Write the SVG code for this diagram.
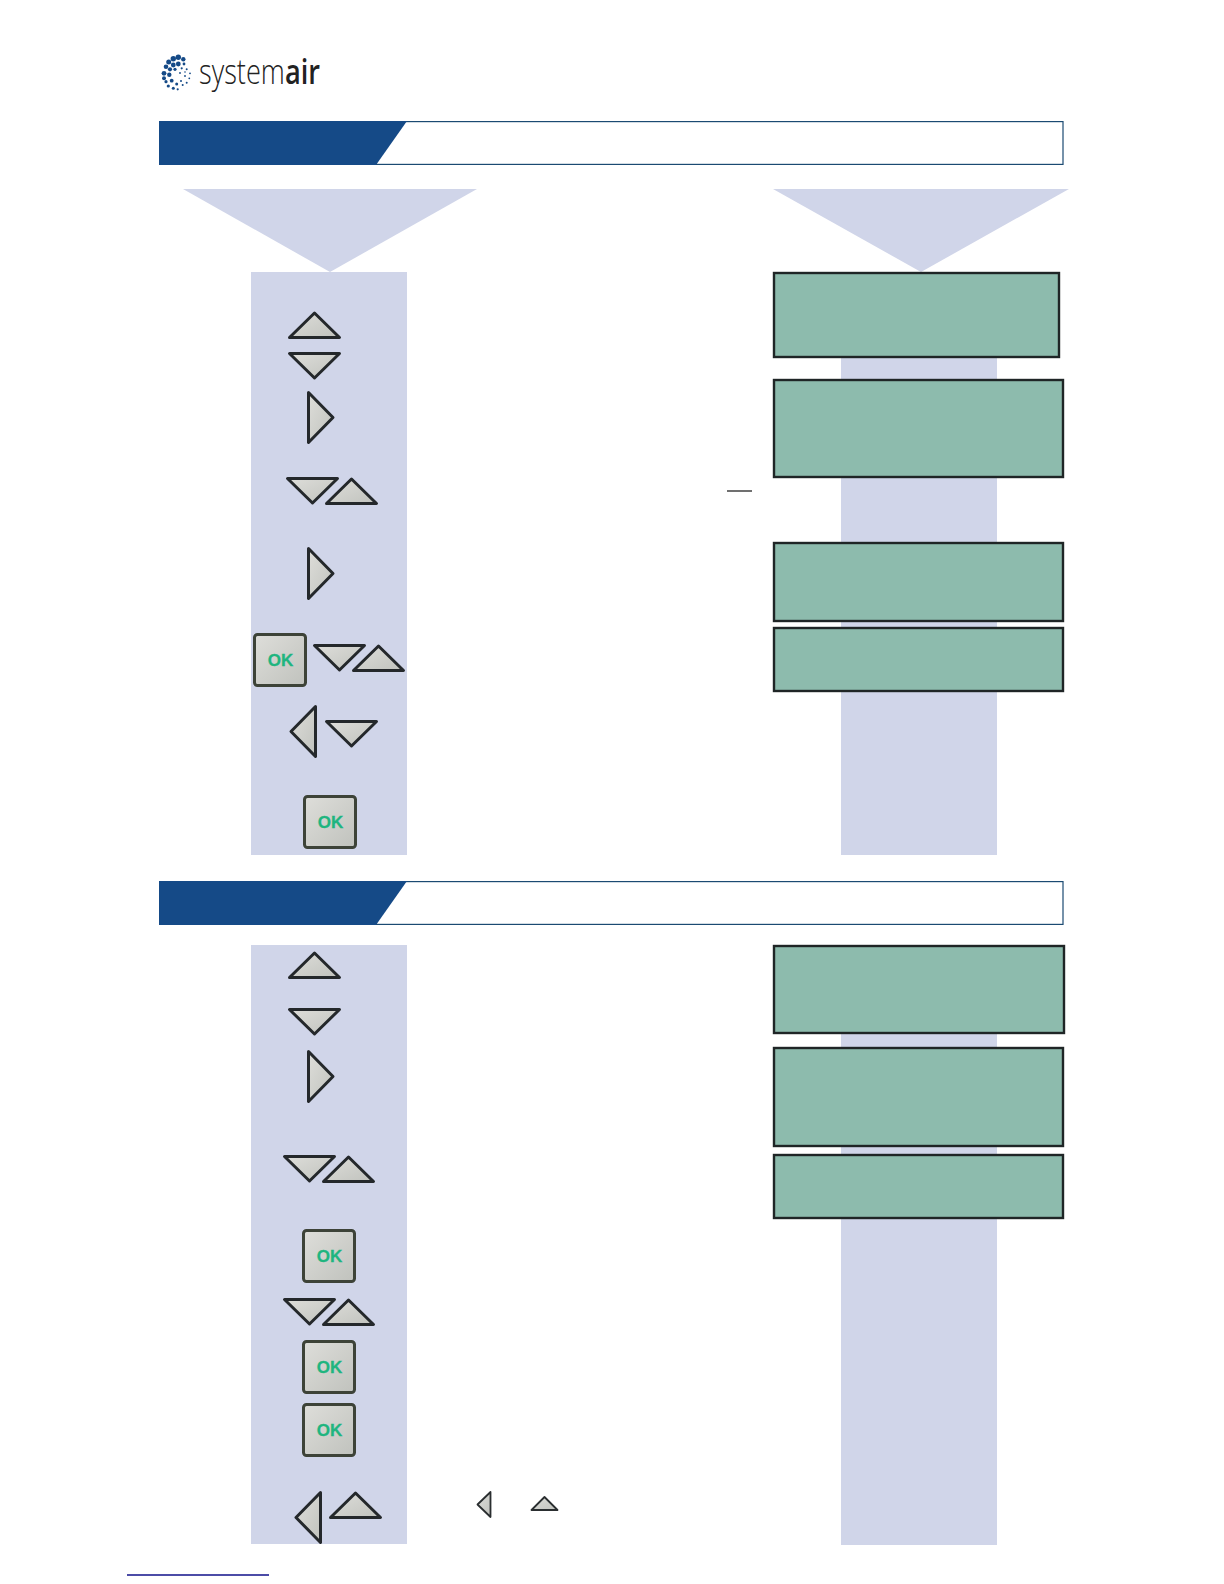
<svg xmlns="http://www.w3.org/2000/svg" width="1224" height="1584" viewBox="0 0 1224 1584">
<style>
.band{fill:#d0d5e9}
.bar{fill:#154a87}
.frame{fill:#fff;stroke:#1b4a72;stroke-width:1.2}
.lcd{fill:#8dbbad;stroke:#1f2526;stroke-width:2.4}
.key{fill:url(#metal);stroke:#24282b;stroke-width:3;stroke-linejoin:round}
.small{fill:url(#metal);stroke:#2a2e30;stroke-width:1.8;stroke-linejoin:round}
.okbox{fill:url(#metal);stroke:#3d4338;stroke-width:3}
.oktext{font-family:"Liberation Sans",Arial,sans-serif;font-weight:700;font-size:17px;fill:#1fb57f;stroke:#1fb57f;stroke-width:.3;text-anchor:middle}
.d{fill:#154a87}
</style>
<defs>
<linearGradient id="metal" x1="0" y1="0" x2="1" y2="1"><stop offset="0" stop-color="#dededa"/><stop offset="1" stop-color="#c0c2bd"/></linearGradient>
<polygon id="up" class="key" points="1.5,25.5 26.5,1 51.5,25.5"/>
<polygon id="down" class="key" points="1.5,.5 51.5,.5 26.5,25"/>
<polygon id="right" class="key" points=".5,1.5 25,26.5 .5,51.5"/>
<polygon id="left" class="key" points="25.5,1.5 1,26.5 25.5,51.5"/>
<g id="ok"><rect class="okbox" x="1.5" y="1.5" width="51" height="51" rx="3"/><text class="oktext" x="27.5" y="33">OK</text></g>
</defs>
<rect width="1224" height="1584" fill="#fff"/>

<g id="logo">
<g>
<circle class="d" cx="178.3" cy="57.3" r="2.7"/><circle class="d" cx="173.3" cy="58.7" r="2.7"/><circle class="d" cx="183.3" cy="59.3" r="2.2"/><circle class="d" cx="168.7" cy="62" r="2.5"/><circle class="d" cx="178.3" cy="64" r="2.4"/><circle class="d" cx="173.3" cy="65" r="2.4"/><circle class="d" cx="184" cy="64" r="1.4"/><circle class="d" cx="166" cy="66.7" r="2.3"/><circle class="d" cx="170" cy="69.3" r="2.1"/><circle class="d" cx="164" cy="73.3" r="2.4"/><circle class="d" cx="169.3" cy="74.7" r="2.2"/><circle class="d" cx="164" cy="78.3" r="2"/><circle class="d" cx="175" cy="69.3" r="1.6"/><circle class="d" cx="181.7" cy="68.3" r="1.1"/><circle class="d" cx="186.7" cy="69.3" r="1"/><circle class="d" cx="190" cy="73.3" r=".9"/><circle class="d" cx="189.3" cy="78.3" r=".9"/><circle class="d" cx="186.7" cy="82.7" r="1"/><circle class="d" cx="182.7" cy="85" r="1"/><circle class="d" cx="177.7" cy="89.3" r="1.1"/><circle class="d" cx="173.3" cy="88.3" r="1.5"/><circle class="d" cx="168.3" cy="86" r="1.6"/><circle class="d" cx="166" cy="81.7" r="1.6"/><circle class="d" cx="171.7" cy="80.7" r="1.9"/><circle class="d" cx="176.7" cy="84" r="1.5"/><circle class="d" cx="181" cy="81" r="1"/><circle class="d" cx="185" cy="76" r=".9"/><circle class="d" cx="185" cy="72" r=".8"/><circle class="d" cx="180" cy="73" r=".9"/>
</g>
<text x="199" y="84" font-family="'Open Sans',sans-serif" font-size="35" font-weight="300" fill="#222" textLength="121" lengthAdjust="spacingAndGlyphs">system<tspan font-weight="600">air</tspan></text>
</g>

<g id="section-1">
<rect class="frame" x="376" y="121.6" width="687" height="42.8"/>
<polygon class="bar" points="159,121 407,121 376,165 159,165"/>
<polygon class="band" points="183,189 477,189 330,272"/>
<polygon class="band" points="773,189 1069,189 921,272"/>
<rect class="band" x="251" y="272" width="156" height="583"/>
<rect class="band" x="841" y="350" width="156" height="505"/>
<rect class="lcd" x="774" y="273" width="285" height="84"/>
<rect class="lcd" x="774" y="380" width="289" height="97"/>
<rect class="lcd" x="774" y="543" width="289" height="78"/>
<rect class="lcd" x="774" y="628" width="289" height="63"/>
<line x1="727" y1="491" x2="752" y2="491" stroke="#111" stroke-width="1.2"/>
<g id="k1"><use href="#up" x="288" y="312"/></g>
<g id="k2"><use href="#down" x="288" y="353"/></g>
<g id="k3"><use href="#right" x="308" y="391"/></g>
<g id="k4"><use href="#down" x="286" y="478"/><use href="#up" x="325" y="478"/></g>
<g id="k5"><use href="#right" x="308" y="547"/></g>
<g id="k6"><use href="#ok" x="253" y="633"/><use href="#down" x="313" y="645"/><use href="#up" x="352" y="645"/></g>
<g id="k7"><use href="#left" x="290" y="705"/><use href="#down" x="325" y="721"/></g>
<g id="k8"><use href="#ok" x="303" y="795"/></g>
</g>

<g id="section-2">
<rect class="frame" x="376" y="881.6" width="687" height="42.8"/>
<polygon class="bar" points="159,881 407,881 376,925 159,925"/>
<rect class="band" x="251" y="945" width="156" height="599"/>
<rect class="band" x="841" y="1025" width="156" height="520"/>
<rect class="lcd" x="774" y="946" width="290" height="87"/>
<rect class="lcd" x="774" y="1048" width="289" height="98"/>
<rect class="lcd" x="774" y="1155" width="289" height="63"/>
<g id="k9"><use href="#up" x="288" y="952"/></g>
<g id="k10"><use href="#down" x="288" y="1009"/></g>
<g id="k11"><use href="#right" x="308" y="1050"/></g>
<g id="k12"><use href="#down" x="283" y="1156"/><use href="#up" x="322" y="1156"/></g>
<g id="k13"><use href="#ok" x="302" y="1229"/></g>
<g id="k14"><use href="#down" x="283" y="1299"/><use href="#up" x="322" y="1299"/></g>
<g id="k15"><use href="#ok" x="302" y="1340"/></g>
<g id="k16"><use href="#ok" x="302" y="1403"/></g>
<g id="k17"><use href="#left" x="295" y="1491"/><use href="#up" x="329" y="1492"/></g>
<polygon class="small" points="490.5,1492 477.5,1504.5 490.5,1517"/>
<polygon class="small" points="531.5,1510 544.5,1497 557.5,1510"/>
</g>
<line x1="127" y1="1575" x2="269" y2="1575" stroke="#10108a" stroke-width="1.6"/>
</svg>
